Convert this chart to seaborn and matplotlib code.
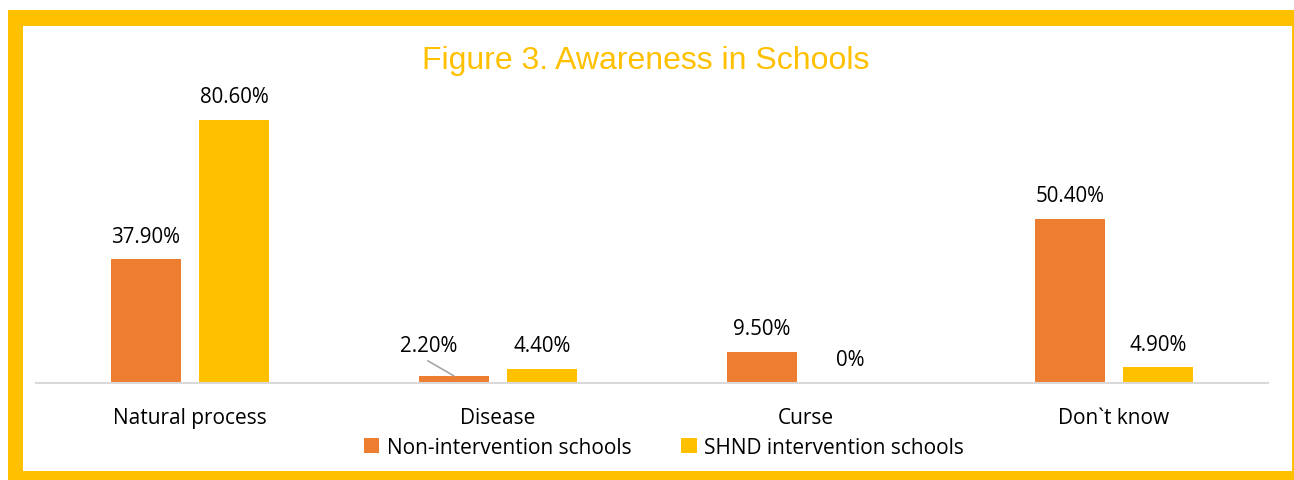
import matplotlib
matplotlib.use("Agg")
import matplotlib.pyplot as plt
from matplotlib.patches import Rectangle, Patch
import seaborn as sns
import pandas as pd

categories = ["Natural process", "Disease", "Curse", "Don`t know"]
series_names = ["Non-intervention schools", "SHND intervention schools"]
non_intervention = [37.9, 2.2, 9.5, 50.4]
shnd_intervention = [80.6, 4.4, 0.0, 4.9]
non_labels = ["37.90%", "2.20%", "9.50%", "50.40%"]
shnd_labels = ["80.60%", "4.40%", "0%", "4.90%"]
title = "Figure 3. Awareness in Schools"

ORANGE = "#ED7D31"
GOLD = "#FFC000"

df = pd.DataFrame({
    "category": categories * 2,
    "series": [series_names[0]] * 4 + [series_names[1]] * 4,
    "value": non_intervention + shnd_intervention,
})

sns.set_style("white")
plt.rcParams["font.family"] = ["Open Sans", "DejaVu Sans"]
plt.rcParams["text.color"] = "black"

W, H = 1294, 481
fig = plt.figure(figsize=(W / 100, H / 100), dpi=100)
fig.patch.set_facecolor("white")

# frame
fig.add_artist(Rectangle((8 / W, 0), 1.0, 1 - 11 / H, transform=fig.transFigure,
                         facecolor=GOLD, edgecolor="none", zorder=0))
fig.add_artist(Rectangle((23 / W, 1 - 472 / H), (1292 - 23) / W, (472 - 27) / H,
                         transform=fig.transFigure, facecolor="white",
                         edgecolor="none", zorder=0))

ax = fig.add_axes([36 / W, (H - 384) / H, 1232 / W, 293.7 / H])
ax.set_zorder(2)
ax.patch.set_alpha(0)

sns.barplot(data=df, x="category", y="value", hue="series",
            palette=[ORANGE, GOLD], saturation=1, width=0.574, gap=0.21, ax=ax,
            legend=False, errorbar=None, linewidth=0)

ax.set_xlim(-0.5, 3.5)
ax.set_ylim(0, 90)
ax.set_xlabel("")
ax.set_ylabel("")
ax.set_yticks([])
for s in ["top", "left", "right"]:
    ax.spines[s].set_visible(False)
ax.spines["bottom"].set_color("#D9D9D9")
ax.spines["bottom"].set_linewidth(1.5)
ax.tick_params(axis="x", length=0, pad=17, labelsize=15, labelcolor="black")

label_sets = [non_labels, shnd_labels]
for ci, cont in enumerate(ax.containers):
    for bi, bar in enumerate(cont):
        x = bar.get_x() + bar.get_width() / 2
        h = bar.get_height()
        txt = label_sets[ci][bi]
        if ci == 0 and bi == 1:
            ax.annotate(txt, (x, h), xytext=(-25, 30), textcoords="offset pixels",
                        ha="center", va="center", fontsize=14.8, color="black")
            ax.annotate("", (x, h), xytext=(-26, 15), textcoords="offset pixels",
                        arrowprops=dict(arrowstyle="-", color="#A6A6A6", lw=1.2,
                                        shrinkA=0, shrinkB=0))
        else:
            ax.annotate(txt, (x, h), xytext=(0, 23), textcoords="offset pixels",
                        ha="center", va="center", fontsize=14.8, color="black")

fig.text(646 / W, 1 - 61 / H, title, ha="center", va="center", color=GOLD,
         fontsize=23, family=["Liberation Sans", "DejaVu Sans"])

handles = [Patch(facecolor=ORANGE, edgecolor="none"), Patch(facecolor=GOLD, edgecolor="none")]
fig.legend(handles, series_names, loc="center", bbox_to_anchor=(664 / W, 1 - 448 / H),
           ncol=2, frameon=False, fontsize=15, handlelength=0.75, handleheight=0.75,
           handletextpad=0.35, columnspacing=2.4, labelcolor="black")

fig.savefig("out.png", dpi=100)
